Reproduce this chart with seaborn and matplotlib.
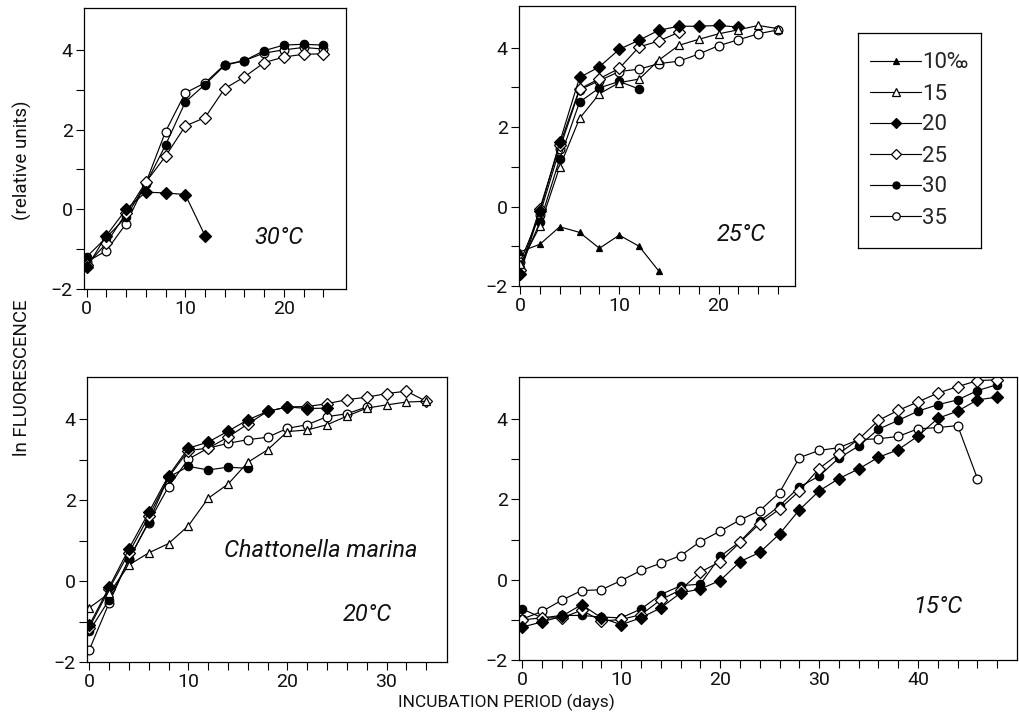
import numpy as np
import pandas as pd
import matplotlib
matplotlib.use("Agg")
import matplotlib.pyplot as plt
from matplotlib.ticker import FixedLocator, NullFormatter
from matplotlib.lines import Line2D
import seaborn as sns

sns.set_style("ticks")
plt.rcParams['font.family'] = ['Roboto', 'DejaVu Sans']

# ---------------- data (ln fluorescence, sampled every 2 days from day 0) ----
DAYS = [0, 2, 4, 6, 8, 10, 12, 14, 16, 18, 20, 22, 24, 26, 28, 30, 32, 34,
        36, 38, 40, 42, 44, 46, 48]
SALINITIES = ["10‰", "15", "20", "25", "30", "35"]

t30_s20 = [-1.46, -0.66, 0.00, 0.43, 0.41, 0.37, -0.66]
t30_s25 = [-1.40, -0.85, -0.10, 0.68, 1.33, 2.09, 2.30, 3.03, 3.32, 3.68, 3.82, 3.89, 3.90]
t30_s30 = [-1.19, -0.71, -0.19, 0.64, 1.61, 2.69, 3.13, 3.61, 3.73, 3.98, 4.12, 4.14, 4.12]
t30_s35 = [-1.32, -1.04, -0.36, 0.66, 1.95, 2.92, 3.17, 3.63, 3.73, 3.92, 4.00, 4.06, 4.02]

t25_s10 = [-1.14, -0.95, -0.51, -0.65, -1.05, -0.72, -1.00, -1.63]
t25_s15 = [-1.45, -0.50, 1.00, 2.22, 2.84, 3.12, 3.21, 3.69, 4.06, 4.21, 4.35, 4.45, 4.56, 4.48]
t25_s20 = [-1.70, -0.12, 1.62, 3.25, 3.52, 3.96, 4.19, 4.44, 4.54, 4.54, 4.56, 4.52]
t25_s25 = [-1.60, -0.05, 1.55, 2.96, 3.22, 3.48, 4.02, 4.17, 4.39]
t25_s30 = [-1.55, -0.40, 1.20, 2.63, 2.99, 3.15, 2.96]
t25_s35 = [-1.40, -0.20, 1.45, 2.94, 3.17, 3.40, 3.46, 3.60, 3.66, 3.84, 4.05, 4.20, 4.35, 4.45]

t20_s15 = [-0.66, -0.30, 0.40, 0.70, 0.93, 1.37, 2.05, 2.40, 2.94, 3.25, 3.70, 3.74, 3.87,
           4.08, 4.28, 4.36, 4.43, 4.45]
t20_s20 = [-1.09, -0.15, 0.80, 1.70, 2.61, 3.29, 3.44, 3.71, 3.99, 4.20, 4.31, 4.27, 4.28]
t20_s25 = [-1.15, -0.20, 0.70, 1.60, 2.57, 3.23, 3.29, 3.56, 3.89, 4.20, 4.31, 4.32, 4.39,
           4.49, 4.55, 4.64, 4.70, 4.45]
t20_s30 = [-1.24, -0.46, 0.54, 1.47, 2.57, 2.84, 2.75, 2.82, 2.79]
t20_s35 = [-1.70, -0.54, 0.55, 1.45, 2.34, 3.02, 3.29, 3.41, 3.50, 3.56, 3.78, 3.87, 4.07,
           4.14, 4.31]

t15_s20 = [-1.18, -1.05, -0.91, -0.62, -0.95, -1.12, -0.95, -0.70, -0.33, -0.23, -0.02, 0.45,
           0.68, 1.14, 1.74, 2.21, 2.52, 2.76, 3.05, 3.24, 3.58, 4.02, 4.20, 4.48, 4.55]
t15_s25 = [-1.00, -0.95, -0.95, -0.76, -1.03, -0.99, -0.87, -0.50, -0.25, 0.19, 0.45, 0.93,
           1.40, 1.76, 2.21, 2.77, 3.14, 3.50, 3.97, 4.22, 4.43, 4.65, 4.81, 4.96, 4.98]
t15_s30 = [-0.73, -0.95, -0.89, -0.89, -0.93, -0.95, -0.73, -0.37, -0.15, -0.11, 0.58, 0.95,
           1.46, 1.84, 2.31, 2.58, 3.03, 3.33, 3.75, 3.97, 4.20, 4.36, 4.48, 4.71, 4.86]
t15_s35 = [-0.98, -0.79, -0.51, -0.27, -0.25, -0.02, 0.23, 0.41, 0.60, 0.95, 1.21, 1.49,
           1.72, 2.17, 3.04, 3.22, 3.29, 3.49, 3.51, 3.57, 3.76, 3.79, 3.84, 2.52]

PANELS = {
    "30°C": {"20": t30_s20, "25": t30_s25, "30": t30_s30, "35": t30_s35},
    "25°C": {"10‰": t25_s10, "15": t25_s15, "20": t25_s20, "25": t25_s25,
             "30": t25_s30, "35": t25_s35},
    "20°C": {"15": t20_s15, "20": t20_s20, "25": t20_s25, "30": t20_s30, "35": t20_s35},
    "15°C": {"20": t15_s20, "25": t15_s25, "30": t15_s30, "35": t15_s35},
}

# ---------------- styles ------------------------------------------------------
STYLE = {
    "10‰": dict(marker="^", ms=5.0, mfc="black", mec="black"),
    "15":  dict(marker="^", ms=6.0, mfc="white", mec="black"),
    "20":  dict(marker="D", ms=6.0, mfc="black", mec="black"),
    "25":  dict(marker="D", ms=6.0, mfc="white", mec="black"),
    "30":  dict(marker="o", ms=6.0, mfc="black", mec="black"),
    "35":  dict(marker="o", ms=6.3, mfc="white", mec="black"),
}
DRAW_ORDER = ["35", "30", "25", "20", "15", "10‰"]

rows = []
for panel, series in PANELS.items():
    for sal, vals in series.items():
        for d, v in zip(DAYS, vals):
            rows.append((panel, sal, d, v))
df = pd.DataFrame(rows, columns=["panel", "salinity", "day", "lnF"])

fig = plt.figure(figsize=(10.19, 7.28), dpi=100)

W, H = 1019.0, 728.0
def rect(x0, y0, x1, y1):
    return [x0 / W, 1 - y1 / H, (x1 - x0) / W, (y1 - y0) / H]

layout = {
    "30°C": dict(rect=rect(84, 8, 346, 289), xlim=(-0.27, 26.3), maxtick=24,
                 label=(19.5, -0.72)),
    "25°C": dict(rect=rect(519, 6, 795, 286), xlim=(-0.1, 27.7), maxtick=26,
                 label=(22.3, -0.70)),
    "20°C": dict(rect=rect(87, 377, 447, 662), xlim=(-0.23, 36.1), maxtick=34,
                 label=(28.1, -0.83)),
    "15°C": dict(rect=rect(519, 377, 1017, 660), xlim=(-0.33, 50.0), maxtick=48,
                 label=(42.0, -0.67)),
}

for panel, cfg in layout.items():
    ax = fig.add_axes(cfg["rect"])
    sub = df[df["panel"] == panel]
    for sal in DRAW_ORDER:
        s = sub[sub["salinity"] == sal]
        if s.empty:
            continue
        st = STYLE[sal]
        sns.lineplot(data=s, x="day", y="lnF", ax=ax, color="black", lw=0.85,
                     marker=st["marker"], markersize=st["ms"],
                     markerfacecolor=st["mfc"], markeredgecolor=st["mec"],
                     markeredgewidth=0.9, errorbar=None, sort=False, legend=False)
    ax.set_xlim(*cfg["xlim"])
    ax.set_ylim(-2, 5.05)
    ax.xaxis.set_major_locator(FixedLocator(np.arange(0, cfg["maxtick"] + 1, 10)))
    ax.xaxis.set_minor_locator(FixedLocator(np.arange(0, cfg["maxtick"] + 1, 2)))
    ax.xaxis.set_minor_formatter(NullFormatter())
    ax.yaxis.set_major_locator(FixedLocator([-2, 0, 2, 4]))
    ax.yaxis.set_minor_locator(FixedLocator([-1, 1, 3]))
    ax.tick_params(which="both", direction="out", length=6, width=0.8,
                   color="black", labelsize=14, pad=2, labelcolor="#111111")
    ax.set_xlabel("")
    ax.set_ylabel("")
    for sp in ax.spines.values():
        sp.set_visible(True)
        sp.set_linewidth(0.9)
        sp.set_color("black")
    ax.text(cfg["label"][0], cfg["label"][1], panel, fontsize=17, style="italic",
            ha="center", va="center", color="#111111")
    if panel == "20°C":
        ax.text(23.4, 0.76, "Chattonella marina", fontsize=17, style="italic",
                ha="center", va="center", color="#111111")

# legend
handles = [Line2D([0], [0], color="black", lw=0.85, marker=STYLE[s]["marker"],
                  markersize=STYLE[s]["ms"] * 0.85, markerfacecolor=STYLE[s]["mfc"],
                  markeredgecolor="black", markeredgewidth=0.9)
           for s in SALINITIES]
leg_ax = fig.add_axes(rect(858, 33, 981, 248))
leg_ax.set_xticks([])
leg_ax.set_yticks([])
for sp in leg_ax.spines.values():
    sp.set_visible(True)
    sp.set_linewidth(0.9)
    sp.set_color("black")
leg_ax.legend(handles, SALINITIES, loc="center", frameon=False, fontsize=16,
              handlelength=2.3, handletextpad=0.05, labelspacing=0.45,
              borderaxespad=0.0)

fig.text(506 / W, 1 - 702 / H, "INCUBATION PERIOD (days)", fontsize=12.5,
         ha="center", va="center", color="#111111")
fig.text(22 / W, 1 - 378 / H, "ln FLUORESCENCE", fontsize=13.5, rotation=90,
         ha="center", va="center", color="#111111")
fig.text(22 / W, 1 - 160 / H, "(relative units)", fontsize=13.5, rotation=90,
         ha="center", va="center", color="#111111")

fig.savefig("out.png", dpi=100)
